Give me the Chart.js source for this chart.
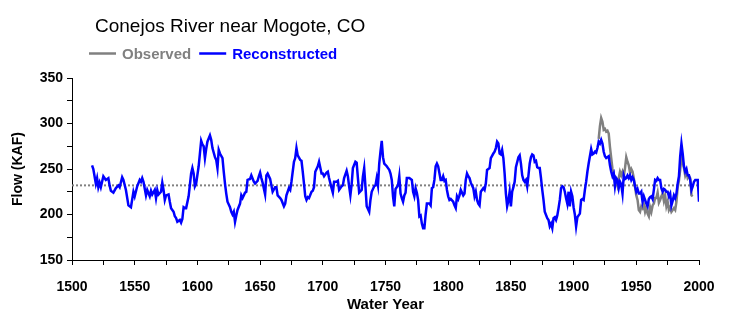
<!DOCTYPE html>
<html>
<head>
<meta charset="utf-8">
<script src="https://cdn.jsdelivr.net/npm/chart.js@4/dist/chart.umd.min.js"></script>
<style>
  html, body { margin: 0; padding: 0; background: #fff; }
  #wrap { position: relative; width: 741px; height: 326px; }
</style>
</head>
<body>
<div id="wrap"><canvas id="flowChart"></canvas></div>
<script>
/* ---------- data ---------- */
const chartTitle = 'Conejos River near Mogote, CO';

// reconstructed annual flow (KAF)
const reconYears = [
  1516, 1517, 1519, 1520, 1521, 1522, 1523, 1525, 1527, 1529, 1530, 1531, 1533, 1535, 1537, 1538,
  1540, 1541, 1543, 1545, 1547, 1549, 1550, 1552, 1554, 1555, 1556, 1557, 1559, 1560, 1562, 1563,
  1564, 1566, 1567, 1568, 1569, 1571, 1572, 1573, 1574, 1575, 1577, 1578, 1579, 1581, 1582, 1583,
  1584, 1586, 1587, 1588, 1589, 1590, 1591, 1593, 1595, 1596, 1597, 1598, 1599, 1601, 1602, 1603,
  1604, 1605, 1606, 1607, 1608, 1610, 1611, 1612, 1614, 1615, 1616, 1617, 1618, 1620, 1621, 1622,
  1623, 1624, 1626, 1627, 1628, 1629, 1630, 1631, 1632, 1634, 1635, 1636, 1638, 1639, 1640, 1642,
  1643, 1645, 1646, 1648, 1649, 1650, 1651, 1652, 1654, 1655, 1656, 1658, 1659, 1660, 1662, 1663,
  1664, 1666, 1667, 1669, 1670, 1671, 1673, 1674, 1675, 1677, 1678, 1679, 1680, 1682, 1683, 1684,
  1685, 1686, 1687, 1688, 1689, 1691, 1692, 1693, 1694, 1696, 1697, 1699, 1700, 1701, 1703, 1704,
  1705, 1707, 1708, 1709, 1711, 1712, 1713, 1715, 1716, 1717, 1719, 1720, 1721, 1722, 1723, 1724,
  1726, 1727, 1728, 1729, 1731, 1732, 1733, 1734, 1735, 1737, 1738, 1739, 1741, 1742, 1743, 1744,
  1745, 1746, 1747, 1748, 1749, 1751, 1752, 1753, 1754, 1755, 1756, 1757, 1758, 1760, 1761, 1762,
  1763, 1764, 1765, 1766, 1767, 1769, 1771, 1772, 1773, 1774, 1775, 1776, 1777, 1778, 1779, 1780,
  1781, 1782, 1783, 1785, 1786, 1787, 1788, 1789, 1790, 1791, 1792, 1794, 1795, 1796, 1797, 1798,
  1799, 1800, 1801, 1802, 1804, 1805, 1806, 1807, 1808, 1809, 1810, 1812, 1813, 1814, 1815, 1816,
  1817, 1818, 1820, 1821, 1822, 1823, 1824, 1825, 1826, 1828, 1829, 1830, 1831, 1832, 1833, 1834,
  1836, 1837, 1838, 1839, 1840, 1841, 1842, 1843, 1844, 1845, 1846, 1847, 1848, 1849, 1850, 1851,
  1852, 1853, 1854, 1856, 1857, 1858, 1859, 1860, 1861, 1862, 1863, 1864, 1865, 1866, 1867, 1868,
  1869, 1870, 1871, 1872, 1873, 1874, 1875, 1876, 1877, 1879, 1880, 1881, 1882, 1883, 1884, 1885,
  1886, 1887, 1888, 1889, 1890, 1891, 1892, 1893, 1894, 1895, 1896, 1897, 1898, 1899, 1900, 1901,
  1902, 1903, 1904, 1905, 1906, 1907, 1908, 1909, 1910, 1911, 1912, 1913, 1914, 1915, 1916, 1917,
  1918, 1919, 1920, 1921, 1922, 1923, 1924, 1925, 1926, 1928, 1929, 1930, 1931, 1932, 1933, 1934,
  1935, 1936, 1937, 1938, 1939, 1940, 1941, 1942, 1943, 1944, 1945, 1946, 1947, 1948, 1949, 1950,
  1951, 1952, 1953, 1954, 1955, 1956, 1957, 1958, 1959, 1960, 1961, 1962, 1963, 1964, 1965, 1966,
  1967, 1968, 1969, 1970, 1971, 1972, 1973, 1974, 1975, 1976, 1977, 1978, 1979, 1980, 1981, 1982,
  1983, 1984, 1985, 1986, 1987, 1988, 1989, 1990, 1991, 1992, 1993, 1994, 1995, 1996, 1997, 1998,
  1999, 2000
];
const reconFlow = [
  254, 250, 234, 240, 230, 235, 230, 242, 238, 240, 232, 226, 224, 229, 232, 230,
  241, 238, 227, 210, 208, 225, 220, 231, 238, 236, 240, 236, 221, 227, 220, 226,
  222, 227, 218, 227, 222, 225, 235, 227, 216, 221, 222, 214, 207, 203, 198, 196,
  192, 194, 191, 195, 208, 207, 207, 220, 245, 251, 245, 231, 234, 253, 267, 281,
  277, 275, 262, 272, 280, 287, 282, 273, 263, 260, 251, 271, 267, 262, 247, 234,
  223, 214, 208, 203, 200, 203, 192, 199, 205, 212, 221, 218, 224, 225, 238, 239,
  243, 236, 234, 237, 242, 246, 240, 235, 222, 243, 245, 239, 232, 225, 230, 230,
  221, 218, 216, 209, 212, 221, 229, 227, 236, 258, 262, 273, 265, 260, 259, 247,
  234, 220, 216, 219, 218, 225, 226, 230, 247, 253, 258, 245, 245, 242, 246, 247,
  240, 229, 224, 236, 236, 237, 227, 231, 232, 240, 248, 242, 231, 221, 233, 251,
  258, 257, 240, 224, 227, 242, 251, 231, 209, 203, 216, 225, 231, 232, 240, 232,
  256, 269, 281, 263, 256, 253, 251, 249, 245, 238, 220, 209, 228, 232, 242, 223,
  218, 214, 221, 224, 240, 240, 238, 225, 220, 229, 224, 216, 198, 199, 190, 185,
  185, 200, 212, 212, 210, 229, 230, 238, 253, 256, 253, 238, 238, 242, 237, 238,
  227, 220, 216, 217, 214, 210, 207, 220, 217, 221, 227, 221, 223, 238, 245, 242,
  240, 235, 229, 220, 225, 216, 212, 210, 225, 229, 227, 234, 249, 250, 251, 262,
  267, 269, 273, 280, 278, 267, 266, 271, 262, 245, 223, 209, 215, 225, 209, 225,
  230, 236, 252, 263, 265, 256, 243, 238, 236, 238, 231, 243, 256, 263, 266, 265,
  258, 259, 252, 251, 251, 240, 227, 216, 203, 196, 194, 187, 190, 185, 196, 197,
  194, 199, 207, 216, 229, 231, 230, 225, 218, 212, 225, 209, 225, 220, 208, 200,
  187, 197, 199, 201, 216, 217, 216, 227, 236, 247, 256, 264, 272, 266, 267, 269,
  268, 273, 280, 278, 282, 278, 269, 264, 262, 264, 254, 247, 242, 245, 231, 240,
  238, 229, 236, 233, 223, 243, 239, 240, 243, 240, 243, 238, 241, 238, 231, 225,
  228, 223, 223, 225, 214, 220, 216, 212, 209, 217, 219, 220, 217, 227, 238, 237,
  240, 238, 238, 229, 225, 228, 227, 225, 225, 220, 223, 210, 215, 221, 218, 223,
  234, 242, 264, 278, 267, 253, 247, 250, 243, 243, 238, 227, 231, 236, 238, 238,
  238, 214
];

// gauged (observed) flow (KAF)
const obsYears = [
  1920, 1921, 1922, 1923, 1924, 1925, 1926, 1927, 1928, 1929, 1930, 1931, 1932, 1933, 1934, 1935,
  1936, 1937, 1938, 1939, 1940, 1941, 1942, 1943, 1944, 1945, 1946, 1947, 1948, 1949, 1950, 1951,
  1952, 1953, 1954, 1955, 1956, 1957, 1958, 1959, 1960, 1961, 1962, 1963, 1964, 1965, 1966, 1967,
  1968, 1969, 1970, 1971, 1972, 1973, 1974, 1975, 1976, 1977, 1978, 1979, 1980, 1981, 1982, 1983,
  1984, 1985, 1986, 1987, 1988, 1989, 1990, 1991, 1992, 1993, 1994, 1995
];
const obsFlow = [
  283, 297, 306, 302, 293, 294, 291, 292, 289, 274, 262, 250, 245, 240, 238, 232,
  240, 247, 243, 247, 242, 251, 263, 258, 254, 246, 250, 247, 240, 230, 221, 216,
  205, 203, 209, 207, 211, 203, 208, 201, 198, 208, 203, 210, 212, 218, 218, 224,
  213, 216, 220, 223, 215, 221, 209, 214, 205, 208, 203, 205, 207, 205, 214, 230,
  237, 249, 262, 258, 251, 243, 247, 240, 242, 240, 221, 220
];

// long-term mean of the reconstruction
const meanFlow = 232;
const meanYears = [1500, 2000];

const xTicks = { min: 1500, max: 2000, step: 25, labelEvery: 50 };
const yTicks = { min: 150, max: 350, step: 25, labelEvery: 50 };

/* ---------- chart ---------- */
const FONT = '"Liberation Sans", Arial, Helvetica, sans-serif';
const toPoints = (xs, ys) => xs.map((x, i) => ({ x: x, y: ys[i] }));

// title + legend row above the plot
const headerPlugin = {
  id: 'header',
  afterDraw(chart) {
    const ctx = chart.ctx;
    ctx.save();
    ctx.textBaseline = 'alphabetic';
    ctx.textAlign = 'left';
    ctx.fillStyle = '#000';
    ctx.font = '19px ' + FONT;
    ctx.fillText(chartTitle, 95, 32);

    ctx.font = 'bold 15px ' + FONT;
    let x = 89;
    chart.data.datasets.filter(ds => ds.label).forEach(ds => {
      ctx.strokeStyle = ds.borderColor;
      ctx.lineWidth = 2.5;
      ctx.beginPath();
      ctx.moveTo(x, 53.5);
      ctx.lineTo(x + 27, 53.5);
      ctx.stroke();
      ctx.fillStyle = ds.borderColor;
      ctx.fillText(ds.label, x + 33, 59);
      x += 33 + ctx.measureText(ds.label).width + 8;
    });
    ctx.restore();
  }
};

new Chart(document.getElementById('flowChart'), {
  type: 'line',
  data: {
    datasets: [
      {
        label: 'Observed',
        data: toPoints(obsYears, obsFlow),
        borderColor: '#808080',
        borderWidth: 2.5,
        pointRadius: 0,
        tension: 0,
        order: 2
      },
      {
        label: 'Reconstructed',
        data: toPoints(reconYears, reconFlow),
        borderColor: '#0000ff',
        borderWidth: 2.5,
        pointRadius: 0,
        tension: 0,
        order: 1
      },
      {
        label: '',
        data: meanYears.map(x => ({ x: x, y: meanFlow })),
        borderColor: '#808080',
        borderWidth: 2,
        borderDash: [2, 2],
        pointRadius: 0,
        order: 3
      }
    ]
  },
  options: {
    responsive: true,
    maintainAspectRatio: false,
    animation: false,
    events: [],
    layout: { padding: { top: 78, right: 42, left: 0, bottom: 0 } },
    plugins: {
      legend: { display: false },
      title: { display: false },
      tooltip: { enabled: false }
    },
    scales: {
      x: {
        type: 'linear',
        min: xTicks.min,
        max: xTicks.max,
        afterFit: s => { s.height = 66; },
        border: { color: '#000', width: 1 },
        grid: { drawOnChartArea: false, color: '#000', tickLength: 5 },
        ticks: {
          stepSize: xTicks.step,
          autoSkip: false,
          maxRotation: 0,
          padding: 14,
          color: '#000',
          font: { family: FONT, size: 14, weight: 'bold' },
          callback: v => (v % xTicks.labelEvery === 0 ? v : '')
        },
        title: {
          display: true,
          text: 'Water Year',
          color: '#000',
          font: { family: FONT, size: 15, weight: 'bold' },
          padding: { bottom: 12 }
        }
      },
      y: {
        min: yTicks.min,
        max: yTicks.max,
        afterFit: s => { s.width = 72; },
        border: { color: '#000', width: 1 },
        grid: { drawOnChartArea: false, color: '#000', tickLength: 5 },
        ticks: {
          stepSize: yTicks.step,
          padding: 4,
          color: '#000',
          font: { family: FONT, size: 14, weight: 'bold' },
          callback: v => (v % yTicks.labelEvery === 0 ? v : '')
        },
        title: {
          display: true,
          text: 'Flow (KAF)',
          color: '#000',
          font: { family: FONT, size: 14, weight: 'bold' },
          padding: { top: 10 }
        }
      }
    }
  },
  plugins: [headerPlugin]
});
</script>
</body>
</html>
